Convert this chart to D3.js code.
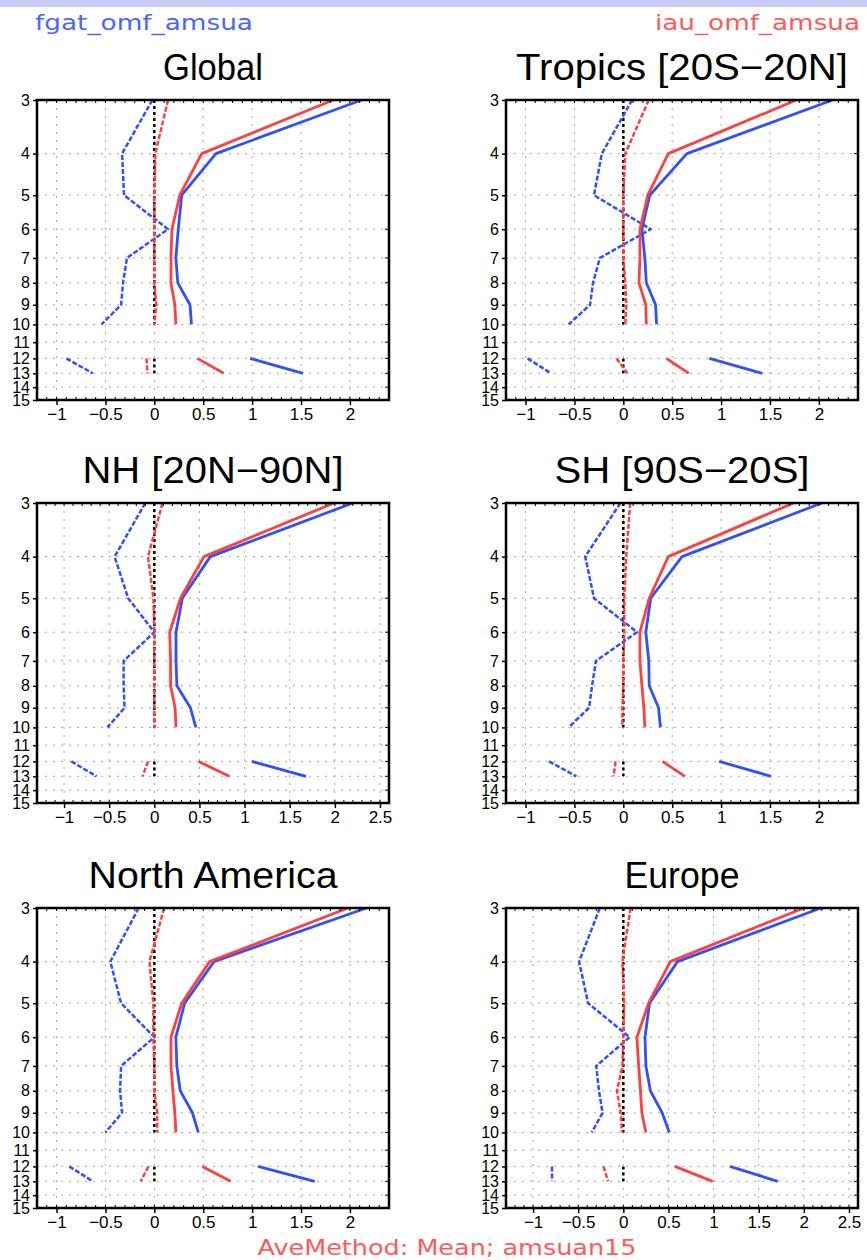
<!DOCTYPE html>
<html>
<head>
<meta charset="utf-8">
<script src="https://cdn.jsdelivr.net/npm/d3@7"></script>
<style>
  html, body { margin: 0; padding: 0; background: #ffffff; }
  svg { display: block; }
</style>
</head>
<body>
<svg id="chart" width="867" height="1260"></svg>
<script>
// AMSU-A channels on the vertical axis (11, 14, 15 carry no data)
const channels = [3, 4, 5, 6, 7, 8, 9, 10, 11, 12, 13, 14, 15];

const regions = ["Global", "Tropics [20S−20N]", "NH [20N−90N]", "SH [90S−20S]", "North America", "Europe"];

// x tick labels
const xTicksShort = [-1, -0.5, 0, 0.5, 1, 1.5, 2];
const xTicksLong = [-1, -0.5, 0, 0.5, 1, 1.5, 2, 2.5];

// fgat O-F standard deviation (solid blue)
const fgatStdGlobal = [2.12, 0.63, 0.28, 0.245, 0.22, 0.24, 0.365, 0.38, null, 0.98, 1.52, null, null];
const fgatStdTropics = [2.14, 0.65, 0.27, 0.19, 0.22, 0.235, 0.33, 0.34, null, 0.88, 1.42, null, null];
const fgatStdNH = [2.20, 0.62, 0.31, 0.24, 0.24, 0.25, 0.40, 0.46, null, 1.08, 1.68, null, null];
const fgatStdSH = [2.03, 0.60, 0.28, 0.23, 0.26, 0.265, 0.36, 0.38, null, 0.98, 1.51, null, null];
const fgatStdNA = [2.17, 0.61, 0.31, 0.22, 0.23, 0.265, 0.39, 0.45, null, 1.06, 1.64, null, null];
const fgatStdEU = [2.19, 0.60, 0.29, 0.24, 0.25, 0.30, 0.43, 0.51, null, 1.18, 1.71, null, null];

// iau O-F standard deviation (solid red)
const iauStdGlobal = [1.83, 0.485, 0.26, 0.18, 0.17, 0.17, 0.21, 0.22, null, 0.44, 0.71, null, null];
const iauStdTropics = [1.77, 0.46, 0.25, 0.17, 0.17, 0.16, 0.23, 0.235, null, 0.44, 0.67, null, null];
const iauStdNH = [1.99, 0.55, 0.29, 0.17, 0.18, 0.18, 0.23, 0.24, null, 0.49, 0.83, null, null];
const iauStdSH = [1.74, 0.46, 0.265, 0.17, 0.17, 0.19, 0.21, 0.22, null, 0.40, 0.63, null, null];
const iauStdNA = [1.98, 0.565, 0.28, 0.17, 0.17, 0.19, 0.21, 0.22, null, 0.49, 0.78, null, null];
const iauStdEU = [2.00, 0.52, 0.28, 0.15, 0.17, 0.19, 0.205, 0.25, null, 0.57, 0.99, null, null];

// fgat O-F mean (dashed blue)
const fgatMeanGlobal = [-0.02, -0.33, -0.31, 0.14, -0.28, -0.32, -0.34, -0.54, null, -0.90, -0.63, null, null];
const fgatMeanTropics = [0.09, -0.22, -0.30, 0.28, -0.24, -0.31, -0.34, -0.56, null, -0.98, -0.74, null, null];
const fgatMeanNH = [-0.10, -0.44, -0.29, 0.0, -0.34, -0.34, -0.33, -0.52, null, -0.92, -0.64, null, null];
const fgatMeanSH = [-0.03, -0.39, -0.30, 0.14, -0.28, -0.32, -0.35, -0.56, null, -0.76, -0.48, null, null];
const fgatMeanNA = [-0.16, -0.45, -0.34, 0.0, -0.34, -0.35, -0.33, -0.50, null, -0.87, -0.63, null, null];
const fgatMeanEU = [-0.26, -0.49, -0.39, 0.07, -0.30, -0.27, -0.23, -0.35, null, -0.79, -0.79, null, null];

// iau O-F mean (dashed red)
const iauMeanGlobal = [0.14, 0.01, 0.0, 0.0, 0.0, 0.0, 0.02, 0.0, null, -0.08, -0.07, null, null];
const iauMeanTropics = [0.26, 0.02, 0.0, 0.0, 0.0, 0.02, 0.03, 0.02, null, -0.07, 0.04, null, null];
const iauMeanNH = [0.09, -0.07, -0.01, 0.0, 0.0, 0.0, 0.0, 0.0, null, -0.07, -0.13, null, null];
const iauMeanSH = [0.07, 0.03, 0.01, 0.01, 0.0, 0.0, -0.01, -0.01, null, -0.08, -0.10, null, null];
const iauMeanNA = [0.10, -0.05, -0.01, -0.01, 0.0, 0.0, 0.03, 0.03, null, -0.06, -0.14, null, null];
const iauMeanEU = [0.08, -0.01, 0.01, 0.0, -0.01, -0.07, -0.03, -0.015, null, -0.22, -0.17, null, null];

// zero reference (dashed black), present wherever data exists
const zeroRef = [0, 0, 0, 0, 0, 0, 0, 0, null, 0, 0, null, null];

const fgatStd = [fgatStdGlobal, fgatStdTropics, fgatStdNH, fgatStdSH, fgatStdNA, fgatStdEU];
const iauStd = [iauStdGlobal, iauStdTropics, iauStdNH, iauStdSH, iauStdNA, iauStdEU];
const fgatMean = [fgatMeanGlobal, fgatMeanTropics, fgatMeanNH, fgatMeanSH, fgatMeanNA, fgatMeanEU];
const iauMean = [iauMeanGlobal, iauMeanTropics, iauMeanNH, iauMeanSH, iauMeanNA, iauMeanEU];

// x-axis limits per panel
const xLimits = [[-1.2, 2.4], [-1.2, 2.4], [-1.3, 2.6], [-1.2, 2.4], [-1.2, 2.4], [-1.3, 2.6]];
const xTickSets = [xTicksShort, xTicksShort, xTicksLong, xTicksShort, xTicksShort, xTicksLong];

// ---- layout ----
const colLeft = [37, 506];
const rowTop = [100, 503, 908];
const plotW = 352, plotH = 300;
const titleWidths = [100, 332, 261, 255, 249, 115];

const BLUE = "#3050ff";
const RED = "#ff4040";
const GRID = "#a8a8a8";

const svg = d3.select("#chart");

svg.append("rect").attr("x", 0).attr("y", 0).attr("width", 867).attr("height", 7).attr("fill", "#cbcbf7");

svg.append("text")
  .attr("x", 35).attr("y", 30)
  .attr("font-family", "DejaVu Sans, sans-serif").attr("font-size", 22)
  .attr("fill", "#4a66ff")
  .attr("textLength", 218).attr("lengthAdjust", "spacingAndGlyphs")
  .text("fgat_omf_amsua");

svg.append("text")
  .attr("x", 860).attr("y", 30).attr("text-anchor", "end")
  .attr("font-family", "DejaVu Sans, sans-serif").attr("font-size", 22)
  .attr("fill", "#ff5a5a")
  .attr("textLength", 205).attr("lengthAdjust", "spacingAndGlyphs")
  .text("iau_omf_amsua");

svg.append("text")
  .attr("x", 447).attr("y", 1255).attr("text-anchor", "middle")
  .attr("font-family", "DejaVu Sans, sans-serif").attr("font-size", 22)
  .attr("fill", "#ff5a5a")
  .attr("textLength", 379).attr("lengthAdjust", "spacingAndGlyphs")
  .text("AveMethod: Mean; amsuan15");

const fmt = d3.format("");

regions.forEach((name, i) => {
  const left = colLeft[i % 2];
  const top = rowTop[Math.floor(i / 2)];
  const x = d3.scaleLinear().domain(xLimits[i]).range([left, left + plotW]);
  const y = d3.scaleLog().domain([3, 15]).range([top, top + plotH]);
  const g = svg.append("g");

  // title
  g.append("text")
    .attr("x", left + plotW / 2).attr("y", top - 20)
    .attr("text-anchor", "middle")
    .attr("font-family", "Liberation Sans, Arial, sans-serif")
    .attr("font-size", 37)
    .attr("fill", "#000")
    .attr("textLength", titleWidths[i]).attr("lengthAdjust", "spacingAndGlyphs")
    .text(name);

  // grid
  const ticks = xTickSets[i];
  g.append("g").selectAll("line").data(ticks).join("line")
    .attr("x1", d => x(d)).attr("x2", d => x(d))
    .attr("y1", top).attr("y2", top + plotH)
    .attr("stroke", GRID).attr("stroke-width", 1).attr("stroke-dasharray", "2,6");
  g.append("g").selectAll("line").data(channels.slice(1, -1)).join("line")
    .attr("x1", left).attr("x2", left + plotW)
    .attr("y1", d => y(d)).attr("y2", d => y(d))
    .attr("stroke", GRID).attr("stroke-width", 1).attr("stroke-dasharray", "2,6");

  // series
  const rows = channels.map((c, k) => ({
    c, zero: zeroRef[k], fm: fgatMean[i][k], im: iauMean[i][k], fs: fgatStd[i][k], is: iauStd[i][k]
  }));
  const lineFor = key => d3.line()
    .defined(d => d[key] !== null)
    .x(d => x(d[key]))
    .y(d => y(d.c));

  const series = [
    { key: "zero", color: "#000", w: 2.5, dash: "3,3" },
    { key: "fm", color: BLUE, w: 2.5, dash: "5,2" },
    { key: "im", color: RED, w: 2.5, dash: "5,2" },
    { key: "fs", color: BLUE, w: 2.8, dash: null },
    { key: "is", color: RED, w: 2.8, dash: null }
  ];
  series.forEach(s => {
    g.append("path")
      .datum(rows)
      .attr("d", lineFor(s.key))
      .attr("fill", "none")
      .attr("stroke", s.color)
      .attr("stroke-width", s.w)
      .attr("stroke-dasharray", s.dash)
      .attr("stroke-linejoin", "round");
  });

  // frame
  g.append("rect")
    .attr("x", left).attr("y", top).attr("width", plotW).attr("height", plotH)
    .attr("fill", "none").attr("stroke", "#000").attr("stroke-width", 2.5);

  // x axis
  const xAxis = d3.axisBottom(x).tickValues(ticks).tickFormat(fmt).tickSize(5).tickPadding(3);
  const xa = g.append("g").attr("transform", `translate(0,${top + plotH})`).call(xAxis);
  xa.select(".domain").remove();
  xa.selectAll(".tick line").attr("stroke", "#000").attr("stroke-width", 1.5);
  xa.selectAll(".tick text")
    .attr("font-family", "Liberation Sans, Arial, sans-serif")
    .attr("font-size", 17).attr("fill", "#000");

  // minor ticks along top and bottom
  const minor = x.ticks(36);
  g.append("g").selectAll("line").data(minor).join("line")
    .attr("x1", d => x(d)).attr("x2", d => x(d))
    .attr("y1", top + plotH).attr("y2", top + plotH - 3)
    .attr("stroke", "#000").attr("stroke-width", 1);
  g.append("g").selectAll("line").data(minor).join("line")
    .attr("x1", d => x(d)).attr("x2", d => x(d))
    .attr("y1", top).attr("y2", top + 3)
    .attr("stroke", "#000").attr("stroke-width", 1);

  // y axis
  const yAxis = d3.axisLeft(y).tickValues(channels).tickFormat(d3.format("d")).tickSize(4).tickPadding(3);
  const ya = g.append("g").attr("transform", `translate(${left},0)`).call(yAxis);
  ya.select(".domain").remove();
  ya.selectAll(".tick line").attr("stroke", "#000").attr("stroke-width", 1.5);
  ya.selectAll(".tick text")
    .attr("font-family", "Liberation Sans, Arial, sans-serif")
    .attr("font-size", 16).attr("fill", "#000");

  // inward ticks on the right border
  g.append("g").selectAll("line").data(channels).join("line")
    .attr("x1", left + plotW).attr("x2", left + plotW - 4)
    .attr("y1", d => y(d)).attr("y2", d => y(d))
    .attr("stroke", "#000").attr("stroke-width", 1);
});
</script>
</body>
</html>
